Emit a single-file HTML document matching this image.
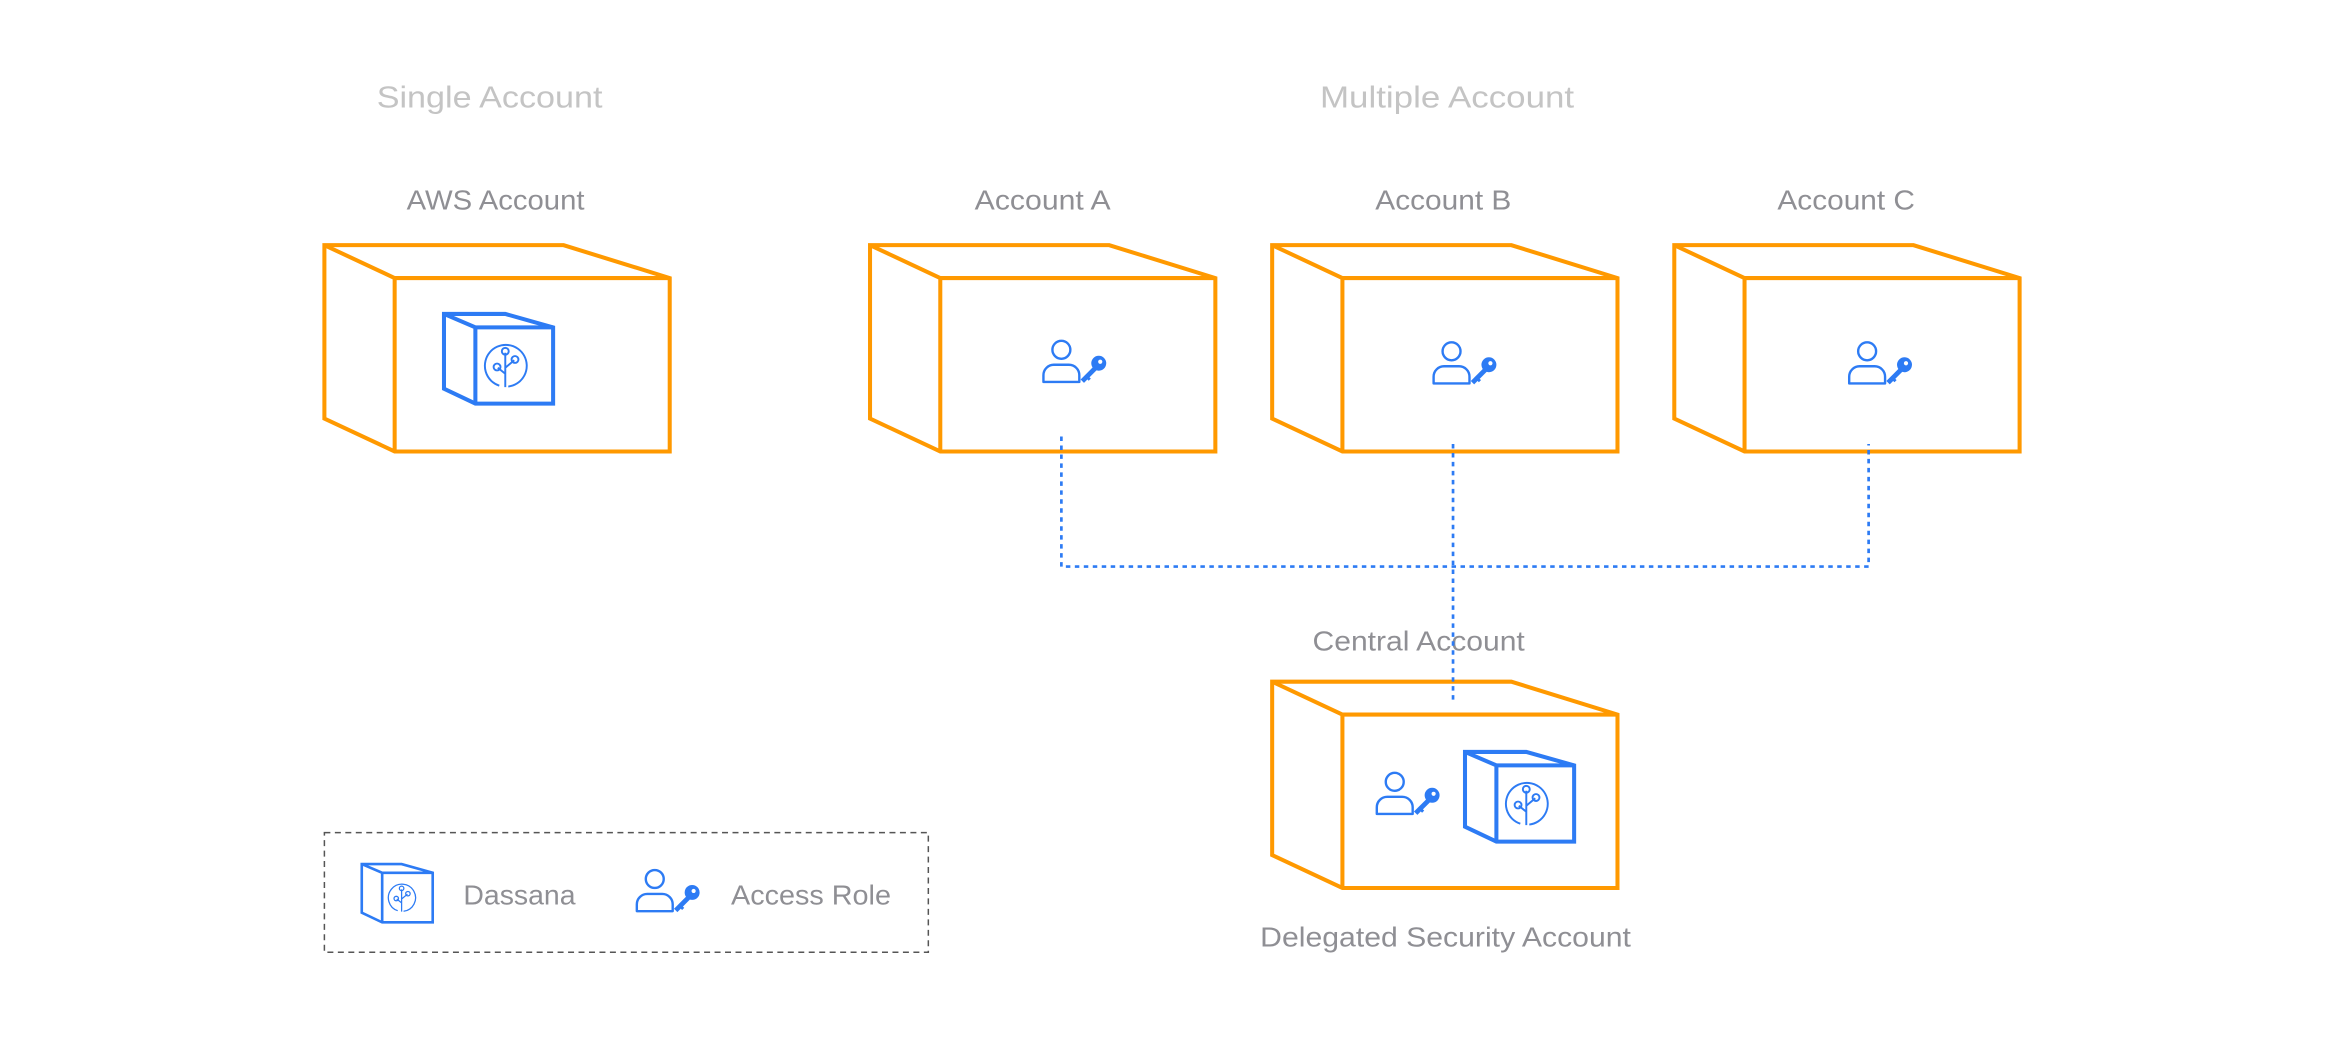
<!DOCTYPE html>
<html><head><meta charset="utf-8"><style>
html,body{margin:0;padding:0;background:#fff;}
svg{display:block;}
text{font-family:"Liberation Sans",sans-serif;}
</style></head><body>
<svg width="2344" height="1040" viewBox="0 0 1568 695.7" preserveAspectRatio="none" xmlns="http://www.w3.org/2000/svg">
<defs>
<g id="box" fill="none" stroke="#FF9900" stroke-width="2.7" stroke-linejoin="miter">
<path d="M0,0 H160 L231,22 V138 H47 L0,116 Z"/>
<path d="M0,0 L47,22 H231 M47,22 V138"/>
</g>
<g id="cube" fill="none" stroke="#2D7BF4">
<path d="M0,0 H41 L73,9 V60 H21 L0,50 Z" stroke-width="2.7"/>
<path d="M0,0 L21,9 H73 M21,9 V60" stroke-width="2.7"/>
<path d="M37,48 A14,14 0 1 1 43,48.6" stroke-width="1.3"/>
<path d="M41,49 V26 M41,40 L36,36 M41,36 L47,31" stroke-width="1.3"/>
<circle cx="41" cy="25" r="2.3" stroke-width="1.3"/>
<circle cx="47.5" cy="30.5" r="2.3" stroke-width="1.3"/>
<circle cx="35.5" cy="35.5" r="2.3" stroke-width="1.3"/>
</g>
<g id="person">
<circle cx="0" cy="0" r="6" fill="none" stroke="#2D7BF4" stroke-width="1.6"/>
<path d="M-12,21.5 V17 A7,7 0 0 1 -5,10 H5 A7,7 0 0 1 12,17 V21.5 Z" fill="none" stroke="#2D7BF4" stroke-width="1.6" stroke-linejoin="round"/>
<circle cx="25" cy="9" r="5" fill="#2D7BF4"/>
<circle cx="26" cy="8" r="1.4" fill="#fff"/>
<path d="M23,12 L14,21" stroke="#2D7BF4" stroke-width="3.2"/>
<path d="M16,17 l3,3 M19,14 l2,2" stroke="#2D7BF4" stroke-width="2"/>
</g>
</defs>

<text x="252" y="72" font-size="20.5" fill="#c4c4c4" textLength="151" lengthAdjust="spacingAndGlyphs">Single Account</text>
<text x="883" y="72" font-size="20.5" fill="#c4c4c4" textLength="170" lengthAdjust="spacingAndGlyphs">Multiple Account</text>

<text x="272" y="140" font-size="18.5" fill="#8f8f94" textLength="119" lengthAdjust="spacingAndGlyphs">AWS Account</text>
<text x="652" y="140" font-size="18.5" fill="#8f8f94" textLength="91" lengthAdjust="spacingAndGlyphs">Account A</text>
<text x="920" y="140" font-size="18.5" fill="#8f8f94" textLength="91" lengthAdjust="spacingAndGlyphs">Account B</text>
<text x="1189" y="140" font-size="18.5" fill="#8f8f94" textLength="92" lengthAdjust="spacingAndGlyphs">Account C</text>
<text x="878" y="435" font-size="18.5" fill="#8f8f94" textLength="142" lengthAdjust="spacingAndGlyphs">Central Account</text>
<text x="843" y="633" font-size="18.5" fill="#8f8f94" textLength="248" lengthAdjust="spacingAndGlyphs">Delegated Security Account</text>

<use href="#box" x="217" y="164"/>
<use href="#box" x="582" y="164"/>
<use href="#box" x="851" y="164"/>
<use href="#box" x="1120" y="164"/>
<use href="#box" x="851" y="456"/>

<g fill="none" stroke="#2D7BF4" stroke-width="1.8" stroke-dasharray="3,3">
<path d="M710,292 V379 H1250 V297"/>
<path d="M972,297 V470"/>
</g>

<use href="#cube" x="297" y="210"/>
<use href="#person" x="710" y="234"/>
<use href="#person" x="971" y="235"/>
<use href="#person" x="1249" y="235"/>
<use href="#person" x="933" y="523"/>
<use href="#cube" transform="translate(980,503)"/>

<rect x="217" y="557" width="404" height="80" fill="none" stroke="#555" stroke-width="1" stroke-dasharray="4,3"/>
<use href="#cube" transform="translate(242,578) scale(0.65)"/>
<use href="#person" x="438" y="588"/>
<text x="310" y="605" font-size="18.5" fill="#8f8f94" textLength="75" lengthAdjust="spacingAndGlyphs">Dassana</text>
<text x="489" y="605" font-size="18.5" fill="#8f8f94" textLength="107" lengthAdjust="spacingAndGlyphs">Access Role</text>
</svg>
</body></html>
